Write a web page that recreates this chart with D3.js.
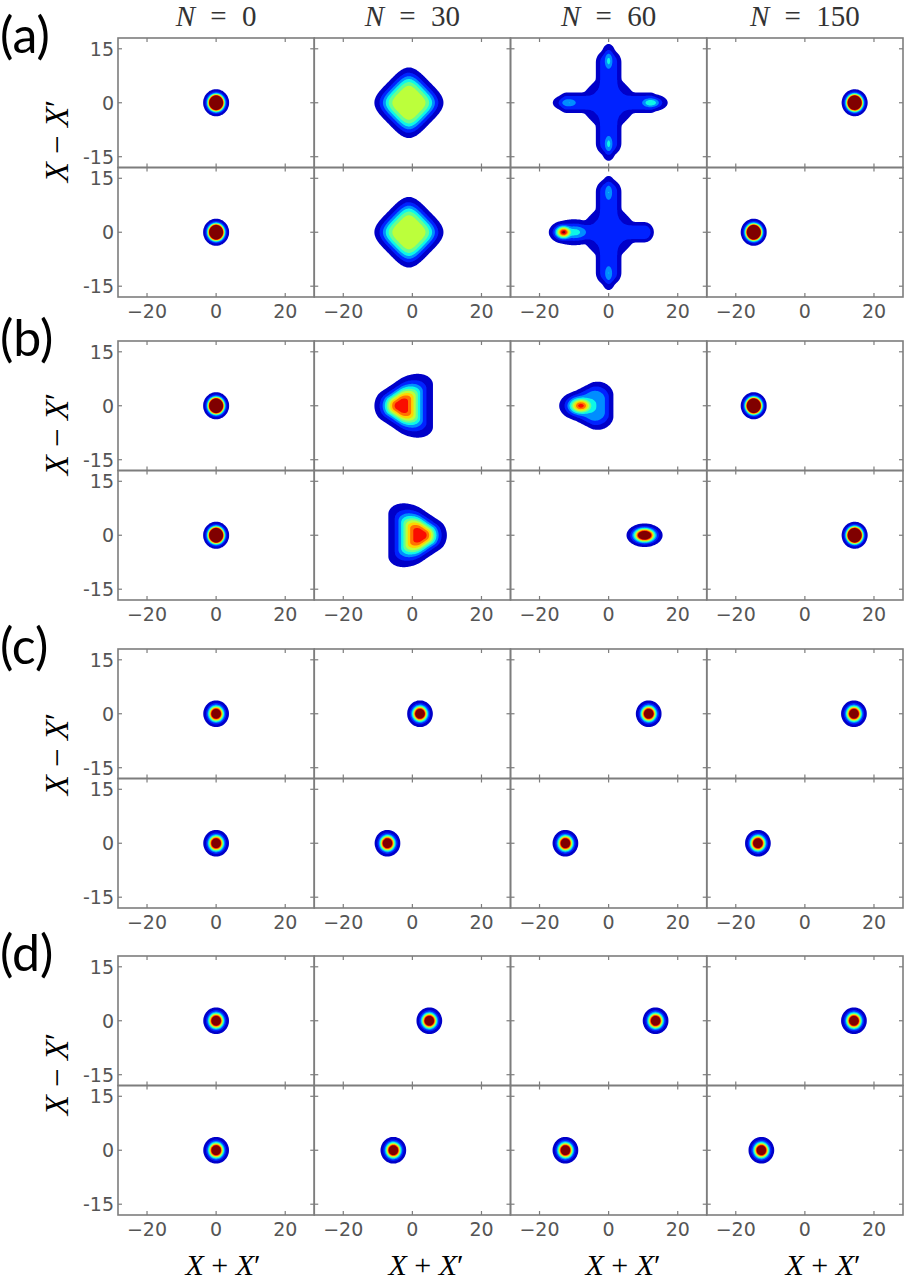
<!DOCTYPE html>
<html>
<head>
<meta charset="utf-8">
<script src="https://cdn.jsdelivr.net/npm/d3@7"></script>
<style>
	body { margin: 0; background: #fff; }
</style>
</head>
<body>
<svg id="fig" width="906" height="1284"></svg>
<script>
const N_VALUES = [0, 30, 60, 150];
const PANEL_LABELS = ['(a)', '(b)', '(c)', '(d)'];
const X_TICKS = [-20, 0, 20];
const Y_TICKS = [-15, 0, 15];
const LEVELS = [0.02, 0.1, 0.2, 0.3, 0.4, 0.5, 0.6, 0.7, 0.8, 0.9];

// one row per density component:
// [row, col, x, y, sx, sy, amp, sides, rot, power, halfLenX, halfLenY, firstEdge]
const blobsA = [
	[0, 0, 0, 0, 1.15, 1.15, 4, 0, 0, 2],
	[1, 0, 0, 0, 1.15, 1.15, 4, 0, 0, 2],
	[0, 1, -1, 0, 5.2, 5.1, 0.6, 4, 45, 4],
	[1, 1, -1, 0, 5.2, 5.1, 0.6, 4, 45, 4],
	[0, 2, 0, 0, 2.0, 2.0, 0.15, 0, 0, 4, 12, 0],
	[0, 2, 0, 0, 2.6, 2.6, 0.15, 0, 0, 4, 0, 11.2],
	[0, 2, 0, 0, 5.0, 5.0, 0.15, 4, 45, 4],
	[0, 2, 0, 11.6, 1.0, 2.0, 0.33, 0, 0, 2],
	[0, 2, 12.2, 0, 2.0, 1.0, 0.4, 0, 0, 2],
	[0, 2, -11.5, 0, 2.0, 1.0, 0.3, 0, 0, 2],
	[0, 2, 0, -11.4, 1.0, 2.0, 0.33, 0, 0, 2],
	[1, 2, -1.75, 0, 2.0, 2.0, 0.15, 0, 0, 4, 12, 0],
	[1, 2, 0, 0, 2.6, 2.6, 0.15, 0, 0, 4, 0, 11.2],
	[1, 2, 0, 0, 5.0, 5.0, 0.15, 4, 45, 4],
	[1, 2, -13, 0, 1.5, 1.1, 0.95, 0, 0, 2],
	[1, 2, -10, 0, 3.0, 1.5, 0.35, 0, 0, 2],
	[1, 2, 0, 11, 1.0, 2.0, 0.3, 0, 0, 2],
	[1, 2, 0, -11.4, 1.0, 2.0, 0.3, 0, 0, 2],
	[0, 3, 14.4, 0, 1.15, 1.15, 4, 0, 0, 2],
	[1, 3, -14.8, 0, 1.15, 1.15, 4, 0, 0, 2],
];

const blobsB = [
	[0, 0, 0, 0, 1.15, 1.15, 4, 0, 0, 2],
	[1, 0, 0, 0, 1.15, 1.15, 4, 0, 0, 2],
	[0, 1, -3.4, 0, 2.6, 2.9, 0.88, 3, 0, 2.5, 0, 0, 1.6],
	[1, 1, 2.4, 0, 2.6, 2.9, 0.88, 3, 180, 2.5, 0, 0, 1.6],
	[0, 2, -5.1, 0, 4.24, 3.6, 0.3, 3, 0, 4],
	[0, 2, -8, 0, 2.3, 1.5, 0.85, 0, 0, 2],
	[1, 2, 10.4, 0, 1.76, 1.1, 1.6, 0, 0, 2],
	[0, 3, -14.8, 0, 1.15, 1.15, 4, 0, 0, 2],
	[1, 3, 14.4, 0, 1.15, 1.15, 4, 0, 0, 2],
];

const blobsC = [
	[0, 0, 0, 0, 1.25, 1.25, 1.6, 0, 0, 2],
	[0, 1, 2.2, 0, 1.25, 1.25, 1.6, 0, 0, 2],
	[0, 2, 11.6, 0, 1.25, 1.25, 1.6, 0, 0, 2],
	[0, 3, 14.2, 0, 1.25, 1.25, 1.6, 0, 0, 2],
	[1, 0, 0, 0, 1.25, 1.25, 1.6, 0, 0, 2],
	[1, 1, -7.2, 0, 1.25, 1.25, 1.6, 0, 0, 2],
	[1, 2, -12.5, 0, 1.25, 1.25, 1.6, 0, 0, 2],
	[1, 3, -13.6, 0, 1.25, 1.25, 1.6, 0, 0, 2],
];

const blobsD = [
	[0, 0, 0, 0, 1.25, 1.25, 1.6, 0, 0, 2],
	[0, 1, 4.9, 0, 1.25, 1.25, 1.6, 0, 0, 2],
	[0, 2, 13.6, 0, 1.25, 1.25, 1.6, 0, 0, 2],
	[0, 3, 14.2, 0, 1.25, 1.25, 1.6, 0, 0, 2],
	[1, 0, 0, 0, 1.25, 1.25, 1.6, 0, 0, 2],
	[1, 1, -5.5, 0, 1.25, 1.25, 1.6, 0, 0, 2],
	[1, 2, -12.5, 0, 1.25, 1.25, 1.6, 0, 0, 2],
	[1, 3, -12.6, 0, 1.25, 1.25, 1.6, 0, 0, 2],
];

const allBlobs = [blobsA, blobsB, blobsC, blobsD];

// layout
const PANEL_TOPS = [38, 341, 649, 956];
const SUB_H = 129.5;
const COL_X0 = 118;
const COL_W = 196.25;
const X_DOMAIN = [-28.4, 28.4];
const Y_DOMAIN = [-18, 18];
const NX = 172;
const NY = 110;
const Y_LABEL_CY = [141, 434, 754, 1074];
const X_LABEL_CX = [223, 426, 623, 823];
const FRAME = '#7d7d7d';
const ROUNDING = { 3: 1.6, 4: 4 };

const svg = d3.select('#fig');
const defs = svg.append('defs');
defs.append('filter').attr('id', 'soft')
	.attr('x', '-10%').attr('y', '-10%').attr('width', '120%').attr('height', '120%')
	.append('feGaussianBlur').attr('stdDeviation', 0.6);

// jet colormap (matplotlib segment data)
const jetR = d3.scaleLinear().domain([0, 0.35, 0.66, 0.89, 1]).range([0, 0, 1, 1, 0.5]).clamp(true);
const jetG = d3.scaleLinear().domain([0, 0.125, 0.375, 0.64, 0.91, 1]).range([0, 0, 1, 1, 0, 0]).clamp(true);
const jetB = d3.scaleLinear().domain([0, 0.11, 0.34, 0.65, 1]).range([0.5, 1, 1, 0, 0]).clamp(true);
const jet = (t) => d3.rgb(jetR(t) * 255, jetG(t) * 255, jetB(t) * 255).toString();
const bandTop = [...LEVELS.slice(1), 1.0];
const bandNorm = d3.scaleLinear().domain([0, 0.95]).clamp(true);
const bandColor = LEVELS.map((lo, i) => jet(i === LEVELS.length - 1 ? 1 : bandNorm((lo + bandTop[i]) / 2)));

function gauge(b, x, y) {
	const [, , cx, cy, sx, sy, , sides, rot, , lx = 0, ly = 0, edge0 = 1] = b;
	let dx = x - cx;
	let dy = y - cy;
	dx = Math.sign(dx) * Math.max(Math.abs(dx) - lx, 0);
	dy = Math.sign(dy) * Math.max(Math.abs(dy) - ly, 0);
	const ux = dx / sx;
	const uy = dy / sy;
	if (!sides) return Math.hypot(ux, uy);
	const q = ROUNDING[sides];
	let s = 0;
	for (let k = 0; k < sides; k++) {
		const th = (rot + 360 * k / sides) * Math.PI / 180;
		const proj = (ux * Math.cos(th) + uy * Math.sin(th)) / (k === 0 ? edge0 : 1);
		if (proj > 0) s += proj ** q;
	}
	return s ** (1 / q);
}

function density(comps, x, y) {
	let s = 0;
	for (const b of comps) {
		const f = b[6] * Math.exp(-0.5 * gauge(b, x, y) ** b[9]);
		s += f ** 4;
	}
	return s ** 0.25;
}

const dxs = (X_DOMAIN[1] - X_DOMAIN[0]) / NX;
const dys = (Y_DOMAIN[1] - Y_DOMAIN[0]) / NY;

PANEL_TOPS.forEach((top, p) => {
	// panel label
	svg.append('text')
		.attr('x', 0)
		.attr('y', top + 15)
		.attr('font-family', 'Lato, "Open Sans", sans-serif')
		.attr('font-size', 50)
		.attr('fill', '#000')
		.text(PANEL_LABELS[p]);

	// y label
	const yl = svg.append('text')
		.attr('transform', `translate(68,${Y_LABEL_CY[p]}) rotate(-90)`)
		.attr('text-anchor', 'middle')
		.attr('font-family', '"Liberation Serif", serif')
		.attr('font-size', 33)
		.attr('fill', '#000')
		.attr('xml:space', 'preserve');
	yl.append('tspan').attr('font-style', 'italic').text('X');
	yl.append('tspan').text(' \u2212 ');
	yl.append('tspan').attr('font-style', 'italic').text('X');
	yl.append('tspan').text('\u2032');

	for (let r = 0; r < 2; r++) {
		const y0 = top + r * SUB_H;
		const yScale = d3.scaleLinear().domain(Y_DOMAIN).range([y0 + SUB_H, y0]);
		for (let c = 0; c < 4; c++) {
			const x0 = COL_X0 + c * COL_W;
			const xScale = d3.scaleLinear().domain(X_DOMAIN).range([x0, x0 + COL_W]);
			const comps = allBlobs[p].filter((b) => b[0] === r && b[1] === c);

			const values = new Float64Array(NX * NY);
			for (let j = 0; j < NY; j++) {
				const yv = Y_DOMAIN[1] - (j + 0.5) * dys;
				for (let i = 0; i < NX; i++) {
					const xv = X_DOMAIN[0] + (i + 0.5) * dxs;
					values[j * NX + i] = density(comps, xv, yv);
				}
			}
			const contours = d3.contours().size([NX, NY]).thresholds(LEVELS)(values);
			const path = d3.geoPath(d3.geoTransform({
				point(gx, gy) {
					this.stream.point(xScale(X_DOMAIN[0] + gx * dxs), yScale(Y_DOMAIN[1] - gy * dys));
				},
			}));

			const clipId = `clip-${p}-${r}-${c}`;
			defs.append('clipPath').attr('id', clipId)
				.append('rect')
				.attr('x', x0).attr('y', y0).attr('width', COL_W).attr('height', SUB_H);

			svg.append('g')
				.attr('clip-path', `url(#${clipId})`)
				.append('g')
				.attr('filter', 'url(#soft)')
				.selectAll('path')
				.data(contours)
				.enter().append('path')
				.attr('d', path)
				.attr('fill', (d, i) => bandColor[i]);

			// frame
			svg.append('rect')
				.attr('x', x0).attr('y', y0)
				.attr('width', COL_W).attr('height', SUB_H)
				.attr('fill', 'none')
				.attr('stroke', FRAME)
				.attr('stroke-width', 1.6);

			// inward ticks on all sides
			const g = svg.append('g').attr('stroke', FRAME).attr('stroke-width', 1.2);
			X_TICKS.forEach((t) => {
				g.append('line').attr('x1', xScale(t)).attr('x2', xScale(t)).attr('y1', y0 + SUB_H).attr('y2', y0 + SUB_H - 4);
				g.append('line').attr('x1', xScale(t)).attr('x2', xScale(t)).attr('y1', y0).attr('y2', y0 + 4);
			});
			Y_TICKS.forEach((t) => {
				g.append('line').attr('x1', x0).attr('x2', x0 + 4).attr('y1', yScale(t)).attr('y2', yScale(t));
				g.append('line').attr('x1', x0 + COL_W).attr('x2', x0 + COL_W - 4).attr('y1', yScale(t)).attr('y2', yScale(t));
			});

			if (c === 0) {
				svg.append('g').selectAll('text').data(Y_TICKS).enter().append('text')
					.attr('x', x0 - 4)
					.attr('y', (d) => yScale(d))
					.attr('dy', '0.36em')
					.attr('text-anchor', 'end')
					.attr('font-family', '"DejaVu Sans", sans-serif')
					.attr('font-size', 19)
					.attr('fill', '#555')
					.text((d) => String(d));
			}
			if (r === 1) {
				svg.append('g').selectAll('text').data(X_TICKS).enter().append('text')
					.attr('x', (d) => xScale(d))
					.attr('y', y0 + SUB_H + 21)
					.attr('text-anchor', 'middle')
					.attr('font-family', '"DejaVu Sans", sans-serif')
					.attr('font-size', 19)
					.attr('fill', '#555')
					.text((d) => d3.format('')(d).replace('-', '\u2212'));
			}
			if (p === 0 && r === 0) {
				const tt = svg.append('text')
					.attr('x', x0 + COL_W / 2)
					.attr('y', 26)
					.attr('text-anchor', 'middle')
					.attr('font-family', '"Liberation Serif", serif')
					.attr('font-size', 29)
					.attr('word-spacing', 8)
					.attr('fill', '#333')
					.attr('xml:space', 'preserve');
				tt.append('tspan').attr('font-style', 'italic').text('N');
				tt.append('tspan').text(` = ${N_VALUES[c]}`);
			}
			if (p === 3 && r === 1) {
				const xl = svg.append('text')
					.attr('x', X_LABEL_CX[c])
					.attr('y', 1275)
					.attr('text-anchor', 'middle')
					.attr('font-family', '"Liberation Serif", serif')
					.attr('font-size', 30)
					.attr('fill', '#000')
					.attr('xml:space', 'preserve');
				xl.append('tspan').attr('font-style', 'italic').text('X');
				xl.append('tspan').text(' + ');
				xl.append('tspan').attr('font-style', 'italic').text('X');
				xl.append('tspan').text('\u2032');
			}
		}
	}
});
</script>
</body>
</html>
